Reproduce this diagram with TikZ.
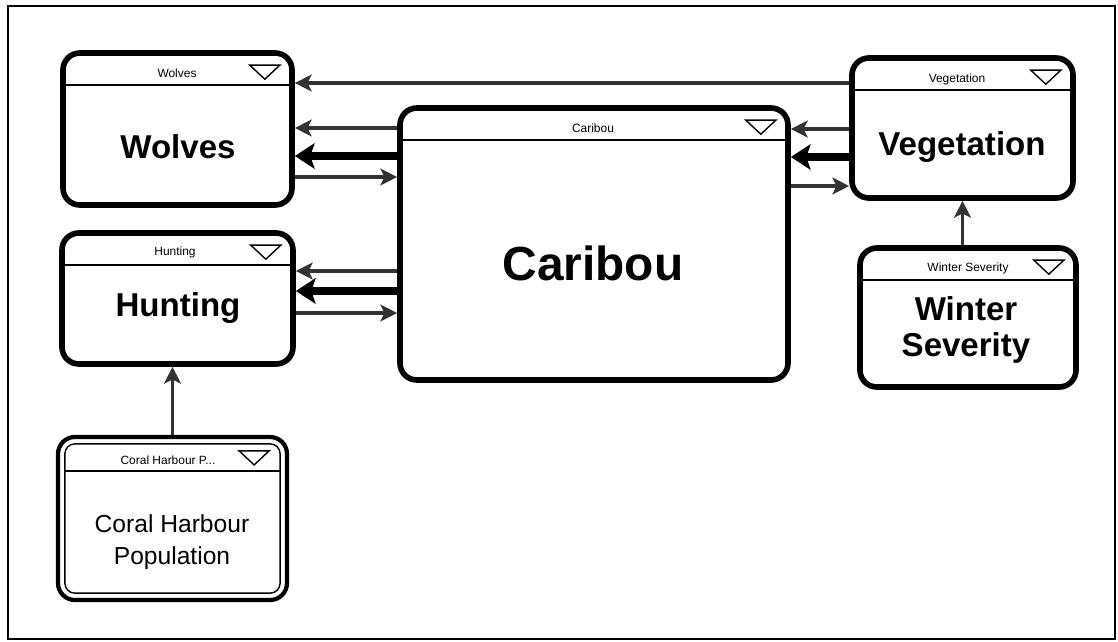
\documentclass[tikz,border=0pt]{standalone}
\usepackage{fontspec}
\setmainfont{Liberation Sans}
\usetikzlibrary{arrows.meta,fit}

\tikzset{
  varbox/.style={draw,line width=4pt,rounded corners=12pt,inner sep=0pt,fill=white},
  hdrline/.style={line width=1pt},
  hdrtext/.style={font=\fontsize{8.5}{10}\selectfont},
  bigtext/.style={font=\fontsize{23.5}{25.5}\selectfont\bfseries,align=center},
  thinarrow/.style={draw=black!80,line width=2.2pt,-{Stealth[length=12pt,width=12pt,inset=3pt]}},
  thickarrow/.style={line width=6pt,-{Stealth[length=14pt,width=18pt,inset=3pt]}},
  menutri/.style={line width=1pt}
}

\begin{document}
\begin{tikzpicture}[x=0.025cm,y=-0.025cm]
\useasboundingbox (0,0) rectangle (1118,641);
\draw[line width=0.9pt] (8,6) rectangle (1115,639);
% variable boxes
\node[varbox,fit={(63,53) (292,205)}] (wolves) {};
\node[varbox,fit={(62,233) (293,364)}] (hunting) {};
\node[varbox,fit={(400,108) (788,380)}] (caribou) {};
\node[varbox,fit={(852,58) (1073,198)}] (vegetation) {};
\node[varbox,fit={(860,248) (1076,387)}] (winter) {};
\node[varbox,line width=3pt,fit={(58,437) (287,600)}] (coral) {};
\draw[line width=1pt,rounded corners=7pt] ([shift={(9,9)}]coral.north west) rectangle ([shift={(-9,-9)}]coral.south east);
\foreach \n in {wolves,hunting,caribou,vegetation,winter}{
  \draw[hdrline] ([shift={(0,35)}]\n.north west) -- ([shift={(0,35)}]\n.north east);
  \draw[menutri] ([shift={(-45,15)}]\n.north east) -- ++(30,0) -- ++(-15,14) -- cycle;
}
\draw[hdrline] ([shift={(9,36)}]coral.north west) -- ([shift={(-9,36)}]coral.north east);
\draw[menutri] ([shift={(-50,16)}]coral.north east) -- ++(30,0) -- ++(-15,14) -- cycle;
% titles
\node[hdrtext] (wolveshdr) at (177,73) {Wolves};
\node[hdrtext] (huntinghdr) at (175,252) {Hunting};
\node[hdrtext] (caribouhdr) at (593,128) {Caribou};
\node[hdrtext] (vegetationhdr) at (957,79) {Vegetation};
\node[hdrtext] (winterhdr) at (968,268) {Winter Severity};
\node[hdrtext] (coralhdr) at (168,460) {Coral Harbour P...};
\node[bigtext] (wolveslbl) at (178,147) {Wolves};
\node[bigtext] (huntinglbl) at (178,308) {Hunting};
\node[bigtext,font=\fontsize{34}{40}\selectfont\bfseries] (cariboulbl) at (593,263) {Caribou};
\node[bigtext] (vegetationlbl) at (962,147) {Vegetation};
\node[bigtext] (winterlbl) at (966,330) {Winter\\Severity};
\node[bigtext,font=\fontsize{17.5}{22.5}\selectfont] (corallbl) at (172,542) {Coral Harbour\\Population};
% links
\draw[thinarrow] (vegetation.west |- 0,83) -- (wolves.east |- 0,83);
\draw[thinarrow] (caribou.west |- 0,128) -- (wolves.east |- 0,128);
\draw[thickarrow] (caribou.west |- 0,156) -- (wolves.east |- 0,156);
\draw[thinarrow] (wolves.east |- 0,177) -- (caribou.west |- 0,177);
\draw[thinarrow] (caribou.west |- 0,271) -- (hunting.east |- 0,271);
\draw[thickarrow] (caribou.west |- 0,291) -- (hunting.east |- 0,291);
\draw[thinarrow] (hunting.east |- 0,313) -- (caribou.west |- 0,313);
\draw[thinarrow] (vegetation.west |- 0,129) -- (caribou.east |- 0,129);
\draw[thickarrow] (vegetation.west |- 0,157) -- (caribou.east |- 0,157);
\draw[thinarrow] (caribou.east |- 0,186) -- (vegetation.west |- 0,186);
\draw[thinarrow] (winter.north -| vegetation.south) -- (vegetation.south);
\draw[thinarrow] (coral.north) -- (coral.north |- hunting.south);
\end{tikzpicture}
\end{document}
